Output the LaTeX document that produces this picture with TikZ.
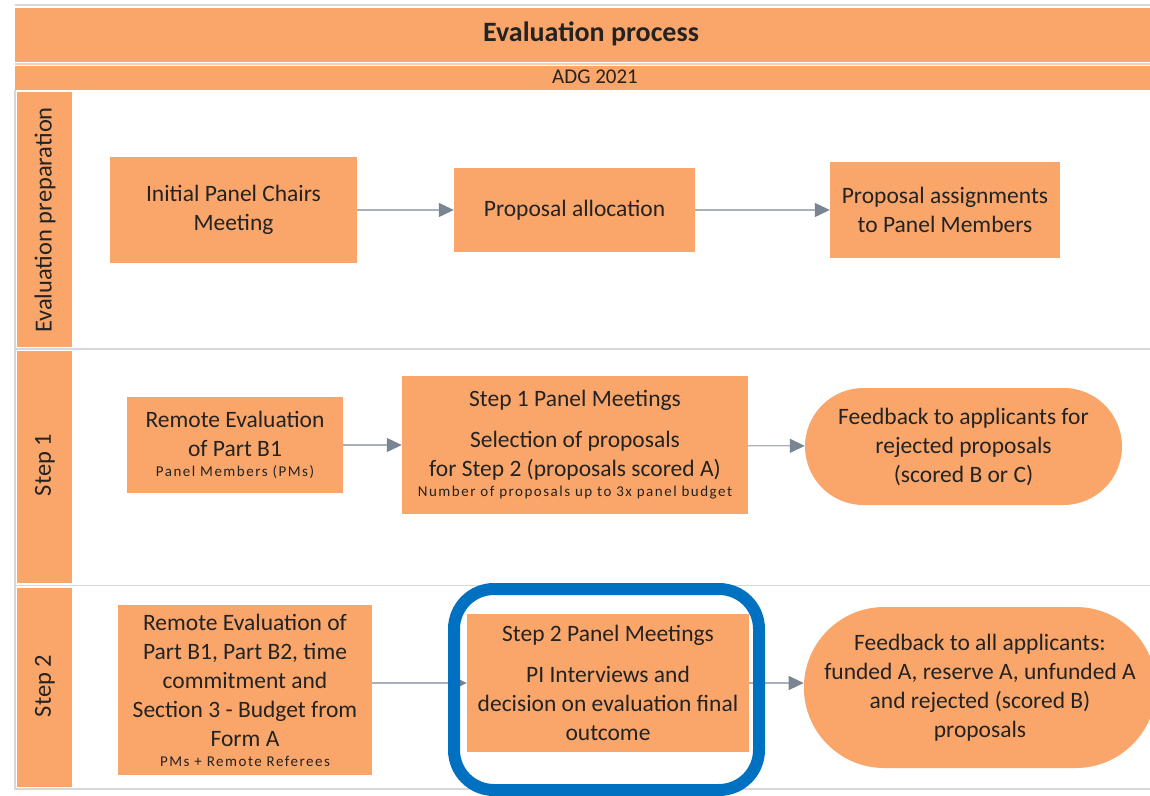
\documentclass[tikz,border=0pt]{standalone}
\usepackage{fontspec}
\setmainfont{Carlito}
\usetikzlibrary{arrows.meta,shapes.misc}
\definecolor{org}{RGB}{250,166,106}
\definecolor{lanegray}{RGB}{215,215,218}
\definecolor{linegray}{RGB}{170,177,187}
\definecolor{headgray}{RGB}{122,133,148}
\definecolor{hiblue}{RGB}{0,112,192}
\definecolor{txt}{RGB}{35,35,35}
\tikzset{
  procbox/.style={fill=org, draw=none, inner sep=0pt, align=center, text=txt,
    font=\fontsize{23.5}{29}\selectfont},
  pill/.style={rounded rectangle, fill=org, draw=none, inner sep=0pt, align=center, text=txt,
    font=\fontsize{23.5}{29}\selectfont},
  band/.style={fill=org, draw=none},
  lanelabel/.style={rotate=90, text=txt, font=\fontsize{24.5}{28}\selectfont},
  flow/.style={draw=linegray, line width=1.2pt, -{Triangle[length=15pt,width=14pt,color=headgray]}},
  laneline/.style={draw=lanegray, line width=1.5pt},
  highlight/.style={draw=hiblue, line width=12pt, rounded corners=40pt}
}
\newcommand{\smalltxt}[1]{{\fontsize{15}{18}\selectfont\addfontfeature{LetterSpace=10}#1}}
\begin{document}
\begin{tikzpicture}[x=1pt,y=-1pt]
\useasboundingbox (0,0) rectangle (1150,795);
\fill[white] (0,0) rectangle (1150,795);
% frame and bands
\draw[laneline] (15,5) -- (1150,5);
\fill[band] (15,8) rectangle (1150,62);
\fill[band] (15,66) rectangle (1150,90);
\draw[draw=org!55!white, line width=2pt] (15,64) -- (1150,64);
\node[text=txt, font=\fontsize{28}{32}\selectfont\bfseries] (title) at (591,34) {Evaluation process};
\node[text=txt, font=\fontsize{21}{25}\selectfont] (year) at (595,77) {ADG 2021};
% lane headers
\fill[band] (17,92) rectangle (72,347);
\fill[band] (17,351) rectangle (72,583);
\fill[band] (17,588) rectangle (72,787);
\draw[laneline] (15,90) -- (15,790);
\draw[laneline] (15,349) -- (1150,349);
\draw[laneline] (15,585.5) -- (1150,585.5);
\draw[laneline] (15,789) -- (1150,789);
\node[lanelabel] (lane1) at (45,220) {Evaluation preparation};
\node[lanelabel] (lane2) at (45,465) {Step 1};
\node[lanelabel] (lane3) at (45,686) {Step 2};
% lane 1
\node[procbox, minimum width=247pt, minimum height=106pt] (b1) at (233.5,210) {Initial Panel Chairs\\Meeting};
\node[procbox, minimum width=241pt, minimum height=84pt] (b2) at (574.5,210) {Proposal allocation};
\node[procbox, minimum width=230pt, minimum height=96pt] (b3) at (945,210) {Proposal assignments\\to Panel Members};
\draw[flow] (b1) -- (b2);
\draw[flow] (b2) -- (b3);
% lane 2
\node[procbox, minimum width=216pt, minimum height=96pt] (s1a) at (235,445) {Remote Evaluation\\of Part B1\\[-9pt]\smalltxt{Panel Members (PMs)}};
\node[procbox, minimum width=346pt, minimum height=138pt] (s1b) at (575,445) {Step 1 Panel Meetings\\[12pt]Selection of proposals\\for Step 2 (proposals scored A)\\[-9pt]\smalltxt{Number of proposals up to 3x panel budget}};
\node[pill, minimum width=317pt, minimum height=117pt] (s1c) at (963.5,446.5) {Feedback to applicants for\\rejected proposals\\(scored B or C)};
\draw[flow] (s1a) -- (s1b);
\draw[flow] (s1b) -- (s1c);
% lane 3
\node[procbox, minimum width=254pt, minimum height=170pt] (s2a) at (245,690) {Remote Evaluation of\\Part B1, Part B2, time\\commitment and\\Section 3 - Budget from\\Form A\\[-9pt]\smalltxt{PMs + Remote Referees}};
\node[procbox, minimum width=282pt, minimum height=138pt] (s2b) at (608,683) {Step 2 Panel Meetings\\[12pt]PI Interviews and\\decision on evaluation final\\outcome};
\node[pill, minimum width=344pt, minimum height=161pt] (s2c) at (980,687.5) {Feedback to all applicants:\\funded A, reserve A, unfunded A\\and rejected (scored B)\\proposals};
\draw[flow] (s2a.east |- s2b.west) -- (s2b.west);
\draw[flow] (s2b) -- (s2c.west |- s2b.east);
% highlight
\draw[highlight] (454,589) rectangle (759,790);
\end{tikzpicture}
\end{document}
